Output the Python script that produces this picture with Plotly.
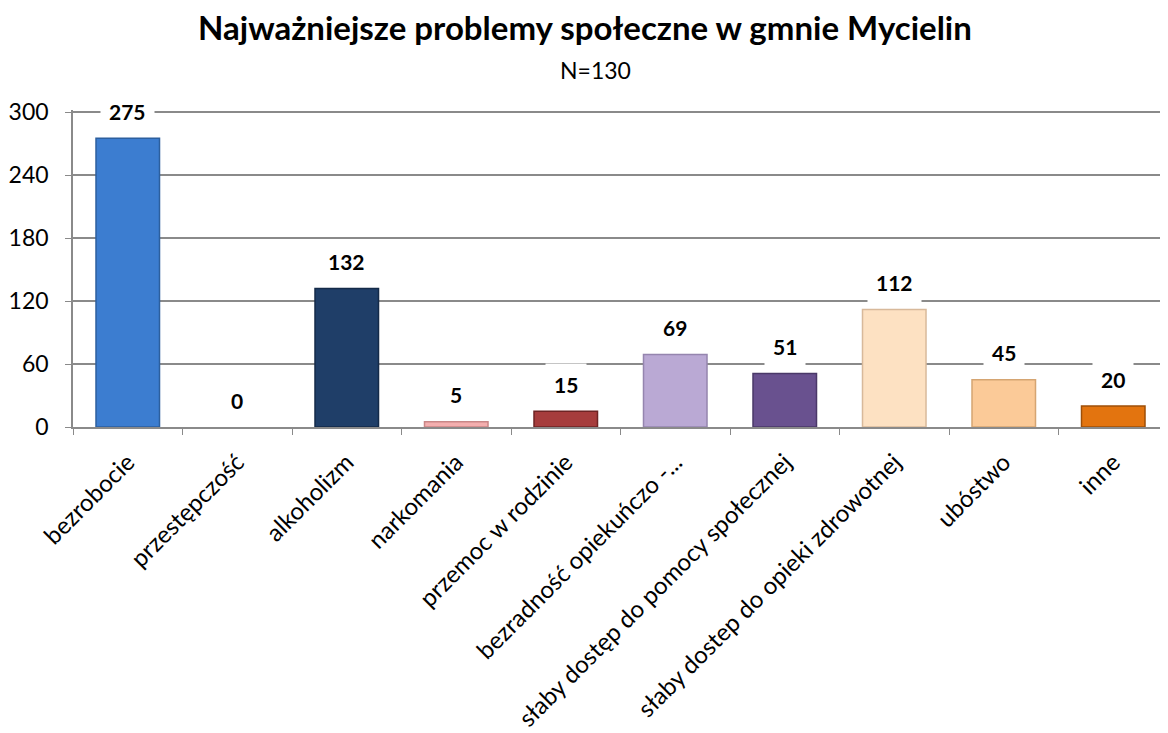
import plotly.graph_objects as go

categories = [
    "bezrobocie",
    "przestępczość",
    "alkoholizm",
    "narkomania",
    "przemoc w rodzinie",
    "bezradność opiekuńczo -...",
    "słaby dostęp do pomocy społecznej",
    "słaby dostep do opieki zdrowotnej",
    "ubóstwo",
    "inne",
]
values = [275, 0, 132, 5, 15, 69, 51, 112, 45, 20]
bar_colors = [
    "#3C7DD0", "#3C7DD0", "#1F3E68", "#F4AFAF", "#A63C3C",
    "#BAA9D4", "#69518F", "#FDE1C2", "#FBCA98", "#E3740F",
]
edge_colors = [
    "#2C5F9E", "#2C5F9E", "#142A48", "#C98787", "#6E2323",
    "#9585AE", "#4A3868", "#D8B99A", "#D5A572", "#9E4F08",
]
y_ticks = [0, 60, 120, 180, 240, 300]

FONT = "Lato, Carlito, Calibri, sans-serif"

fig = go.Figure(
    go.Bar(
        x=categories,
        y=values,
        width=0.58,
        marker=dict(
            color=bar_colors,
            line=dict(color=edge_colors, width=[1.5 if v > 0 else 0 for v in values]),
        ),
        hoverinfo="x+y",
    )
)

# value labels with white background that break the gridlines
for cat, val in zip(categories, values):
    fig.add_annotation(
        x=cat,
        y=val,
        text=f"<b>{val}</b>",
        showarrow=False,
        yanchor="middle",
        yshift=27,
        bgcolor="white",
        borderpad=8,
        font=dict(family=FONT, size=21, color="black"),
    )

# title + subtitle
fig.add_annotation(
    xref="paper", yref="paper", x=0.4676, y=1.0, yanchor="middle", yshift=83,
    text="<b>Najważniejsze problemy społeczne w gmnie Mycielin</b>",
    showarrow=False, font=dict(family=FONT, size=33, color="black"),
)
fig.add_annotation(
    xref="paper", yref="paper", x=0.4776, y=1.0, yanchor="middle", yshift=40,
    text="N=130",
    showarrow=False, font=dict(family=FONT, size=23, color="black"),
)

# page body has an 8px margin, so the figure is sized to fit the window
fig.update_layout(
    width=1160,
    height=725,
    margin=dict(l=65, r=0, t=102, b=306, autoexpand=False),
    plot_bgcolor="white",
    paper_bgcolor="white",
    showlegend=False,
    font=dict(family=FONT, color="black"),
)

fig.update_xaxes(
    tickangle=-45,
    tickfont=dict(family=FONT, size=24, color="black"),
    showline=True,
    linecolor="#8A8A8A",
    linewidth=1.5,
    ticks="outside",
    ticklen=6,
    tickcolor="#8A8A8A",
    tickson="boundaries",
    ticklabelstandoff=10,
    showgrid=False,
    automargin=False,
)
fig.update_yaxes(
    range=[0, 302],
    tickvals=y_ticks,
    tickfont=dict(family=FONT, size=23, color="black"),
    showline=True,
    linecolor="#8A8A8A",
    linewidth=1.5,
    ticks="outside",
    ticklen=6,
    tickcolor="#8A8A8A",
    ticklabelstandoff=12,
    showgrid=True,
    gridcolor="#8A8A8A",
    gridwidth=1.5,
    zeroline=False,
    automargin=False,
)

fig.write_html("out.html")
